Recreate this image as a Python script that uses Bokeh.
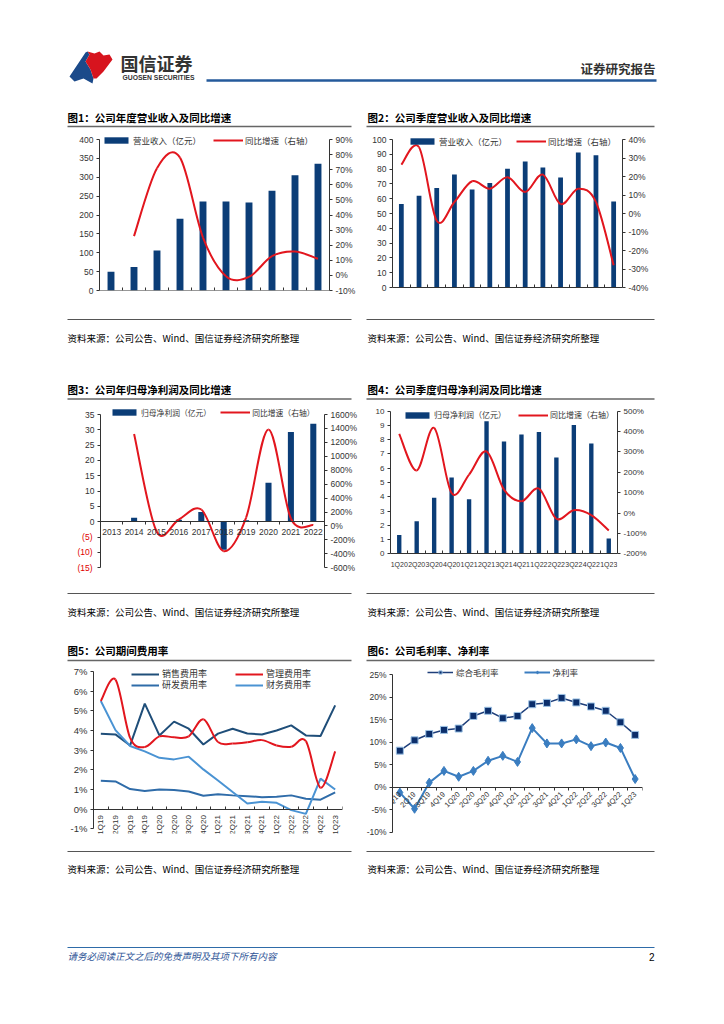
import math
from bokeh.plotting import figure
from bokeh.models import (Range1d, LinearAxis, FixedTicker, PrintfTickFormatter,
                          ColumnDataSource, Legend, LegendItem)
from bokeh.layouts import column, row
from bokeh.embed import file_html
from bokeh.resources import INLINE
from bokeh.core.properties import value

CN = "Noto Sans CJK SC"
NUM = "Liberation Sans"
NAVY = "#0B3D77"
RED = "#E2161E"
AXIS = "#333333"
NAN = float("nan")

# ---------------- data ----------------
years = ["2013", "2014", "2015", "2016", "2017", "2018", "2019", "2020", "2021", "2022"]
rev_annual = [50, 62, 106, 190, 236, 236, 233, 264, 305, 336]
rev_annual_yoy = [None, 26, 71, 78, 25, -0.5, -1, 12.7, 15.8, 11]

quarters20 = ["1Q20", "2Q20", "3Q20", "4Q20", "1Q21", "2Q21", "3Q21", "4Q21",
              "1Q22", "2Q22", "3Q22", "4Q22", "1Q23"]
rev_q = [56.5, 62.0, 67.3, 76.3, 66.3, 70.6, 80.3, 85.1, 81.0, 74.3, 91.3, 89.3, 58.1]
rev_q_yoy = [26.4, 35.8, -3.9, 6.2, 17.4, 13.4, 19.6, 11.6, 21.0, 5.1, 13.4, 6.2, -28.0]

profit_annual = [0.1, 1.3, 0.2, 0.7, 3.2, -9.1, 0.5, 12.7, 29.3, 32.0]
profit_annual_yoy = [None, 1320, -75, 93, 237, -361, 120, 1385, 108, 12]

profit_q = [1.31, 2.29, 3.93, 5.35, 3.83, 9.3, 7.87, 8.36, 8.55, 6.75, 9.04, 7.73, 1.07]
profit_q_yoy = [389, 209, 418, 98, 189, 302, 115, 58, 120, -28, 14, -10, -86]

quarters19 = ["1Q19", "2Q19", "3Q19", "4Q19", "1Q20", "2Q20", "3Q20", "4Q20", "1Q21",
              "2Q21", "3Q21", "4Q21", "1Q22", "2Q22", "3Q22", "4Q22", "1Q23"]
sales_rate = [3.84, 3.80, 3.24, 5.37, 3.75, 4.45, 4.09, 3.29, 3.84, 4.09, 3.85, 3.80, 4.00, 4.26, 3.75, 3.72, 5.28]
admin_rate = [5.50, 6.59, 3.62, 3.16, 3.70, 3.65, 3.70, 4.57, 3.41, 3.34, 3.40, 3.51, 3.24, 3.17, 3.46, 1.09, 2.94]
rd_rate = [1.44, 1.41, 1.02, 0.92, 1.00, 0.97, 0.90, 0.68, 0.76, 0.70, 0.66, 0.61, 0.63, 0.70, 0.53, 0.48, 0.85]
fin_rate = [5.50, 4.02, 3.21, 2.94, 2.61, 2.53, 2.67, 2.02, 1.46, 0.87, 0.29, 0.37, 0.32, -0.05, -0.24, 1.55, 1.00]

gross_margin = [8.1, 10.4, 11.8, 12.7, 13.0, 15.8, 16.95, 15.3, 15.8, 18.4, 18.7, 19.8, 18.8, 17.9, 16.95, 14.4, 11.6]
net_margin = [-1.2, -4.8, 1.0, 3.6, 2.3, 3.6, 5.85, 6.95, 5.6, 13.1, 9.7, 9.7, 10.6, 9.1, 9.9, 8.7, 1.8]

neg_ticks = [-5, -10, -15]
neg_tick_labels = ["(5)", "(10)", "(15)"]

source_text = "资料来源：公司公告、Wind、国信证券经济研究所整理"

# page geometry (page pixels)
OX, OY = 1, 1
COL_SPLIT = 362
PAGE_R = 709


# ---------------- helpers ----------------
def style_axis(ax, size="8.5px"):
    ax.axis_line_color = AXIS
    ax.major_tick_line_color = AXIS
    ax.major_tick_in = 0
    ax.major_tick_out = 3
    ax.minor_tick_line_color = None
    ax.major_label_text_font = NUM
    ax.major_label_text_font_size = size
    ax.major_label_text_color = "#333333"
    ax.major_label_standoff = 3


def chart(fig_l, fig_r, fig_t, fig_b, fr_l, fr_r, fr_t, fr_b, n,
          lo, lo_px, hi, hi_px, yticks, ysize="8.5px", yfmt=None, right=None):
    scale = (lo_px - hi_px) / (hi - lo)
    y0 = lo - (fr_b - lo_px) / scale
    y1 = hi + (hi_px - fr_t) / scale
    p = figure(width=fig_r - fig_l, height=fig_b - fig_t, output_backend="svg",
               toolbar_location=None,
               x_range=Range1d(-0.5, n - 0.5), y_range=Range1d(y0, y1),
               min_border_left=int(round(fr_l - fig_l)), min_border_right=int(round(fig_r - fr_r)),
               min_border_top=int(round(fr_t - fig_t)), min_border_bottom=int(round(fig_b - fr_b)))
    p.grid.visible = False
    p.outline_line_color = None
    for ax in p.axis:
        style_axis(ax, ysize)
    ya = p.yaxis[0]
    ya.ticker = FixedTicker(ticks=yticks)
    ya.bounds = (lo, hi)
    if yfmt:
        ya.formatter = PrintfTickFormatter(format=yfmt)
    if right is not None:
        rlo, rhi, rticks, rsize = right
        rs = (lo_px - hi_px) / (rhi - rlo)
        r0 = rlo - (fr_b - lo_px) / rs
        r1 = rhi + (hi_px - fr_t) / rs
        p.extra_y_ranges = {"r": Range1d(r0, r1)}
        ax = LinearAxis(y_range_name="r", ticker=FixedTicker(ticks=rticks),
                        formatter=PrintfTickFormatter(format="%d%%"))
        style_axis(ax, rsize)
        ax.bounds = (rlo, rhi)
        p.add_layout(ax, "right")
    return p


def cat_axis(p, labels, size, orient=None, tick_in=3, tick_out=0, standoff=4):
    ax = p.xaxis[0]
    n = len(labels)
    ax.ticker = FixedTicker(ticks=list(range(n)), minor_ticks=[i - 0.5 for i in range(n + 1)])
    ax.major_label_overrides = {i: t for i, t in enumerate(labels)}
    ax.major_tick_line_color = None
    ax.minor_tick_line_color = AXIS
    ax.minor_tick_in = tick_in
    ax.minor_tick_out = tick_out
    ax.major_label_text_font_size = size
    ax.major_label_standoff = standoff
    ax.fixed_location = 0
    if orient is not None:
        ax.major_label_orientation = orient


def smooth(p, xs, ys, color, width, range_name=None):
    pts = [(x, y) for x, y in zip(xs, ys) if y is not None]
    d = {k: [] for k in ("x0", "y0", "x1", "y1", "cx0", "cy0", "cx1", "cy1")}
    n = len(pts)
    for i in range(n - 1):
        a = pts[max(i - 1, 0)]
        b = pts[i]
        c = pts[i + 1]
        e = pts[min(i + 2, n - 1)]
        d["x0"].append(b[0]); d["y0"].append(b[1])
        d["x1"].append(c[0]); d["y1"].append(c[1])
        d["cx0"].append(b[0] + (c[0] - a[0]) / 6.0)
        d["cy0"].append(b[1] + (c[1] - a[1]) / 6.0)
        d["cx1"].append(c[0] - (e[0] - b[0]) / 6.0)
        d["cy1"].append(c[1] - (e[1] - b[1]) / 6.0)
    kw = {"y_range_name": range_name} if range_name else {}
    p.bezier(x0="x0", y0="y0", x1="x1", y1="y1", cx0="cx0", cy0="cy0", cx1="cx1", cy1="cy1",
             source=ColumnDataSource(d), line_color=color, line_width=width, **kw)
    proxy = p.line(x=[NAN], y=[NAN], line_color=color, line_width=width, **kw)
    return proxy


def add_legend(p, items, vx, vy, gw, spacing, size="8.5px", standoff=2):
    lg = Legend(items=items, location=(vx, vy), orientation="horizontal",
                glyph_width=gw, glyph_height=8, label_height=12, label_width=10,
                label_standoff=standoff, spacing=spacing, padding=0, margin=0,
                border_line_alpha=0, background_fill_alpha=0,
                label_text_font=CN, label_text_font_size=size, label_text_color="#333333")
    p.add_layout(lg)
    return lg


def decor(y_top, y_bot):
    p = figure(width=PAGE_R - OX, height=y_bot - y_top, output_backend="svg",
               toolbar_location=None,
               x_range=Range1d(OX, PAGE_R), y_range=Range1d(y_bot, y_top),
               x_axis_type=None, y_axis_type=None, min_border=0)
    p.grid.visible = False
    p.outline_line_color = None
    return p


def txt(p, x, y, s, size, color="#000000", font=CN, style="normal", align="left"):
    p.text(x=[x], y=[y], text=[s], text_font=value(font), text_font_size=size,
           text_color=color, text_font_style=style, text_align=align, text_baseline="middle")


def hl(p, x0, x1, y, color, width):
    p.segment(x0=[x0], y0=[y], x1=[x1], y1=[y], line_color=color, line_width=width)


# ---------------- row 1 (page y 131..313) ----------------
R1T, R1B = 131, 313
F1T, F1B = 132, 291
n1 = len(years)
c1 = chart(OX, COL_SPLIT, R1T, R1B, 100, 330, F1T, F1B, n1,
           0, 291, 400, 140, list(range(0, 401, 50)),
           right=(-10, 90, list(range(-10, 91, 10)), "8.5px"))
cat_axis(c1, years, "8.5px")
b1 = c1.vbar(x=list(range(n1)), top=rev_annual, width=0.3, fill_color=NAVY, line_color=None)
l1 = smooth(c1, list(range(n1)), rev_annual_yoy, RED, 2, "r")
add_legend(c1, [LegendItem(label="营业收入（亿元）", renderers=[b1]),
                LegendItem(label="同比增速（右轴）", renderers=[l1])], 2, F1B - 140.5 - 6, 30, 12)

n2 = len(quarters20)
c2 = chart(COL_SPLIT, PAGE_R, R1T, R1B, 393, 623, F1T, F1B, n2,
           0, 288, 100, 140, list(range(0, 101, 10)),
           right=(-40, 40, list(range(-40, 41, 10)), "8.5px"))
cat_axis(c2, quarters20, "7.5px")
b2 = c2.vbar(x=list(range(n2)), top=rev_q, width=0.27, fill_color=NAVY, line_color=None)
l2 = smooth(c2, list(range(n2)), rev_q_yoy, RED, 2, "r")
add_legend(c2, [LegendItem(label="营业收入（亿元）", renderers=[b2]),
                LegendItem(label="同比增速（右轴）", renderers=[l2])], 15, F1B - 141.7 - 6, 30, 9)

# ---------------- row 2 (page y 404..584) ----------------
R2T, R2B = 404, 584
F2T, F2B = 405, 570
c3 = chart(OX, COL_SPLIT, R2T, R2B, 101, 325, F2T, F2B, n1,
           -15, 568.3, 35, 415, list(range(-15, 36, 5)),
           right=(-600, 1600, list(range(-600, 1601, 200)), "8.5px"))
c3.yaxis[0].major_label_overrides = {t: "" for t in neg_ticks}
neg_ax = LinearAxis(ticker=FixedTicker(ticks=neg_ticks))
style_axis(neg_ax, "8.5px")
neg_ax.axis_line_color = None
neg_ax.major_tick_line_color = None
neg_ax.major_tick_out = 0
neg_ax.major_label_standoff = -10
neg_ax.major_label_text_color = "#E00000"
neg_ax.major_label_overrides = {t: s for t, s in zip(neg_ticks, neg_tick_labels)}
c3.add_layout(neg_ax, "left")
cat_axis(c3, years, "8.5px", tick_in=0, tick_out=3)
b3 = c3.vbar(x=list(range(n1)), top=profit_annual, width=0.27, fill_color=NAVY, line_color=None)
l3 = smooth(c3, list(range(n1)), profit_annual_yoy, RED, 2, "r")
add_legend(c3, [LegendItem(label="归母净利润（亿元）", renderers=[b3]),
                LegendItem(label="同比增速（右轴）", renderers=[l3])], 9, F2B - 413.3 - 6, 30, 9,
           size="7.8px")

c4 = chart(COL_SPLIT, PAGE_R, R2T, R2B, 391, 618, F2T, F2B, n2,
           0, 554.3, 10, 411.7, list(range(0, 11, 1)), ysize="8px",
           right=(-200, 500, list(range(-200, 501, 100)), "8px"))
cat_axis(c4, quarters20, "7px")
b4 = c4.vbar(x=list(range(n2)), top=profit_q, width=0.25, fill_color=NAVY, line_color=None)
l4 = smooth(c4, list(range(n2)), profit_q_yoy, RED, 2, "r")
add_legend(c4, [LegendItem(label="归母净利润（亿元）", renderers=[b4]),
                LegendItem(label="同比增速（右轴）", renderers=[l4])], 12, F2B - 415.7 - 6, 30, 12,
           size="8px")

# ---------------- row 3 (page y 665..843) ----------------
R3T, R3B = 665, 843
F3T, F3B = 666, 834
n5 = len(quarters19)
xs5 = list(range(n5))
c5 = chart(OX, COL_SPLIT, R3T, R3B, 94, 343, F3T, F3B, n5,
           -1, 829.3, 7, 672, list(range(-1, 8, 1)), ysize="9.5px", yfmt="%d%%")
cat_axis(c5, quarters19, "8px", orient=math.pi / 2, tick_in=3, tick_out=0, standoff=3)
NAVY5 = "#1F4E79"
RD5 = "#2F6CA9"
FIN5 = "#4A93D3"
r_sales = c5.line(xs5, sales_rate, line_color=NAVY5, line_width=2)
r_rd = c5.line(xs5, rd_rate, line_color=RD5, line_width=2)
r_fin = c5.line(xs5, fin_rate, line_color=FIN5, line_width=2)
r_admin = smooth(c5, xs5, admin_rate, RED, 2)
add_legend(c5, [LegendItem(label="销售费用率", renderers=[r_sales]),
                LegendItem(label="管理费用率", renderers=[r_admin])], 38, F3B - 675 - 6, 28, 28,
           size="9px", standoff=3)
add_legend(c5, [LegendItem(label="研发费用率", renderers=[r_rd]),
                LegendItem(label="财务费用率", renderers=[r_fin])], 38, F3B - 686 - 6, 28, 28,
           size="9px", standoff=3)

c6 = chart(COL_SPLIT, PAGE_R, R3T, R3B, 393, 643, F3T, F3B, n5,
           -10, 832.7, 25, 675, list(range(-10, 26, 5)), ysize="8.5px", yfmt="%d%%")
cat_axis(c6, quarters19, "7.5px", orient=math.pi / 4, tick_in=0, tick_out=3, standoff=3)
GM = "#1F3F7A"
NM = "#3A7DC0"
g_line = c6.line(xs5, gross_margin, line_color=GM, line_width=1.5)
g_pts = c6.scatter(xs5, gross_margin, marker="square", size=7, fill_color="#0B2E6B",
                   line_color="#9DC3E6", line_width=1)
n_line = c6.line(xs5, net_margin, line_color=NM, line_width=2)
n_pts = c6.scatter(xs5, net_margin, marker="diamond", size=9, fill_color=NM, line_color=NM)
add_legend(c6, [LegendItem(label="综合毛利率", renderers=[g_line, g_pts]),
                LegendItem(label="净利率", renderers=[n_line, n_pts])], 35, F3B - 673.3 - 6, 26, 25,
           size="8.5px", standoff=3)

# ---------------- page decorations ----------------
TITLE_SIZE = "10.5px"
SRC_SIZE = "9.5px"

dA = decor(OY, R1T)
dA.patch([70, 86, 88, 90, 86, 91, 94, 93, 84, 75], [77, 53, 52, 55, 62, 70, 79, 84, 79, 82],
         fill_color="#1B4A8A", line_color=None)
dA.patch([88, 95, 100, 104, 110, 113, 104, 97, 94, 91, 86, 90],
         [52, 54, 52, 56, 55, 60, 72, 79, 79, 70, 62, 55],
         fill_color="#D7141E", line_color=None)
txt(dA, 121, 63, "国信证券", "18px", color="#333333", style="bold")
txt(dA, 123, 77.5, "GUOSEN SECURITIES", "6.8px", color="#333333", font=NUM, style="bold")
txt(dA, 656, 69, "证券研究报告", "12.5px", color="#333333", style="bold", align="right")
hl(dA, 207, 657, 81, "#245A9B", 2.5)
txt(dA, 68, 118, "图1：公司年度营业收入及同比增速", TITLE_SIZE, style="bold")
txt(dA, 368, 118, "图2：公司季度营业收入及同比增速", TITLE_SIZE, style="bold")
hl(dA, 68, 352, 127, "#666666", 1.5)
hl(dA, 367, 655, 127, "#666666", 1.5)

dB = decor(R1B, R2T)
hl(dB, 68, 352, 320, "#555555", 1.2)
hl(dB, 367, 655, 320, "#555555", 1.2)
txt(dB, 68, 338, source_text, SRC_SIZE)
txt(dB, 368, 338, source_text, SRC_SIZE)
txt(dB, 68, 390, "图3：公司年归母净利润及同比增速", TITLE_SIZE, style="bold")
txt(dB, 368, 390, "图4：公司季度归母净利润及同比增速", TITLE_SIZE, style="bold")
hl(dB, 68, 352, 399.5, "#666666", 1.5)
hl(dB, 367, 655, 399.5, "#666666", 1.5)

dC = decor(R2B, R3T)
hl(dC, 68, 352, 594, "#555555", 1.2)
hl(dC, 367, 655, 594, "#555555", 1.2)
txt(dC, 68, 612, source_text, SRC_SIZE)
txt(dC, 368, 612, source_text, SRC_SIZE)
txt(dC, 68, 651, "图5：公司期间费用率", TITLE_SIZE, style="bold")
txt(dC, 368, 651, "图6：公司毛利率、净利率", TITLE_SIZE, style="bold")
hl(dC, 68, 352, 661, "#666666", 1.5)
hl(dC, 367, 655, 661, "#666666", 1.5)

dD = decor(R3B, 1012)
hl(dD, 68, 352, 852, "#555555", 1.2)
hl(dD, 367, 655, 852, "#555555", 1.2)
txt(dD, 68, 869, source_text, SRC_SIZE)
txt(dD, 368, 869, source_text, SRC_SIZE)
hl(dD, 68, 655, 948, "#2E6BA8", 1)
txt(dD, 68, 956, "请务必阅读正文之后的免责声明及其项下所有内容", "9.5px", color="#2F5597", style="italic")
txt(dD, 655, 957, "2", "10px", color="#000000", font=NUM, align="right")

page = column(dA, row(c1, c2), dB, row(c3, c4), dC, row(c5, c6), dD)

open("out.html", "w").write(file_html(page, INLINE))
